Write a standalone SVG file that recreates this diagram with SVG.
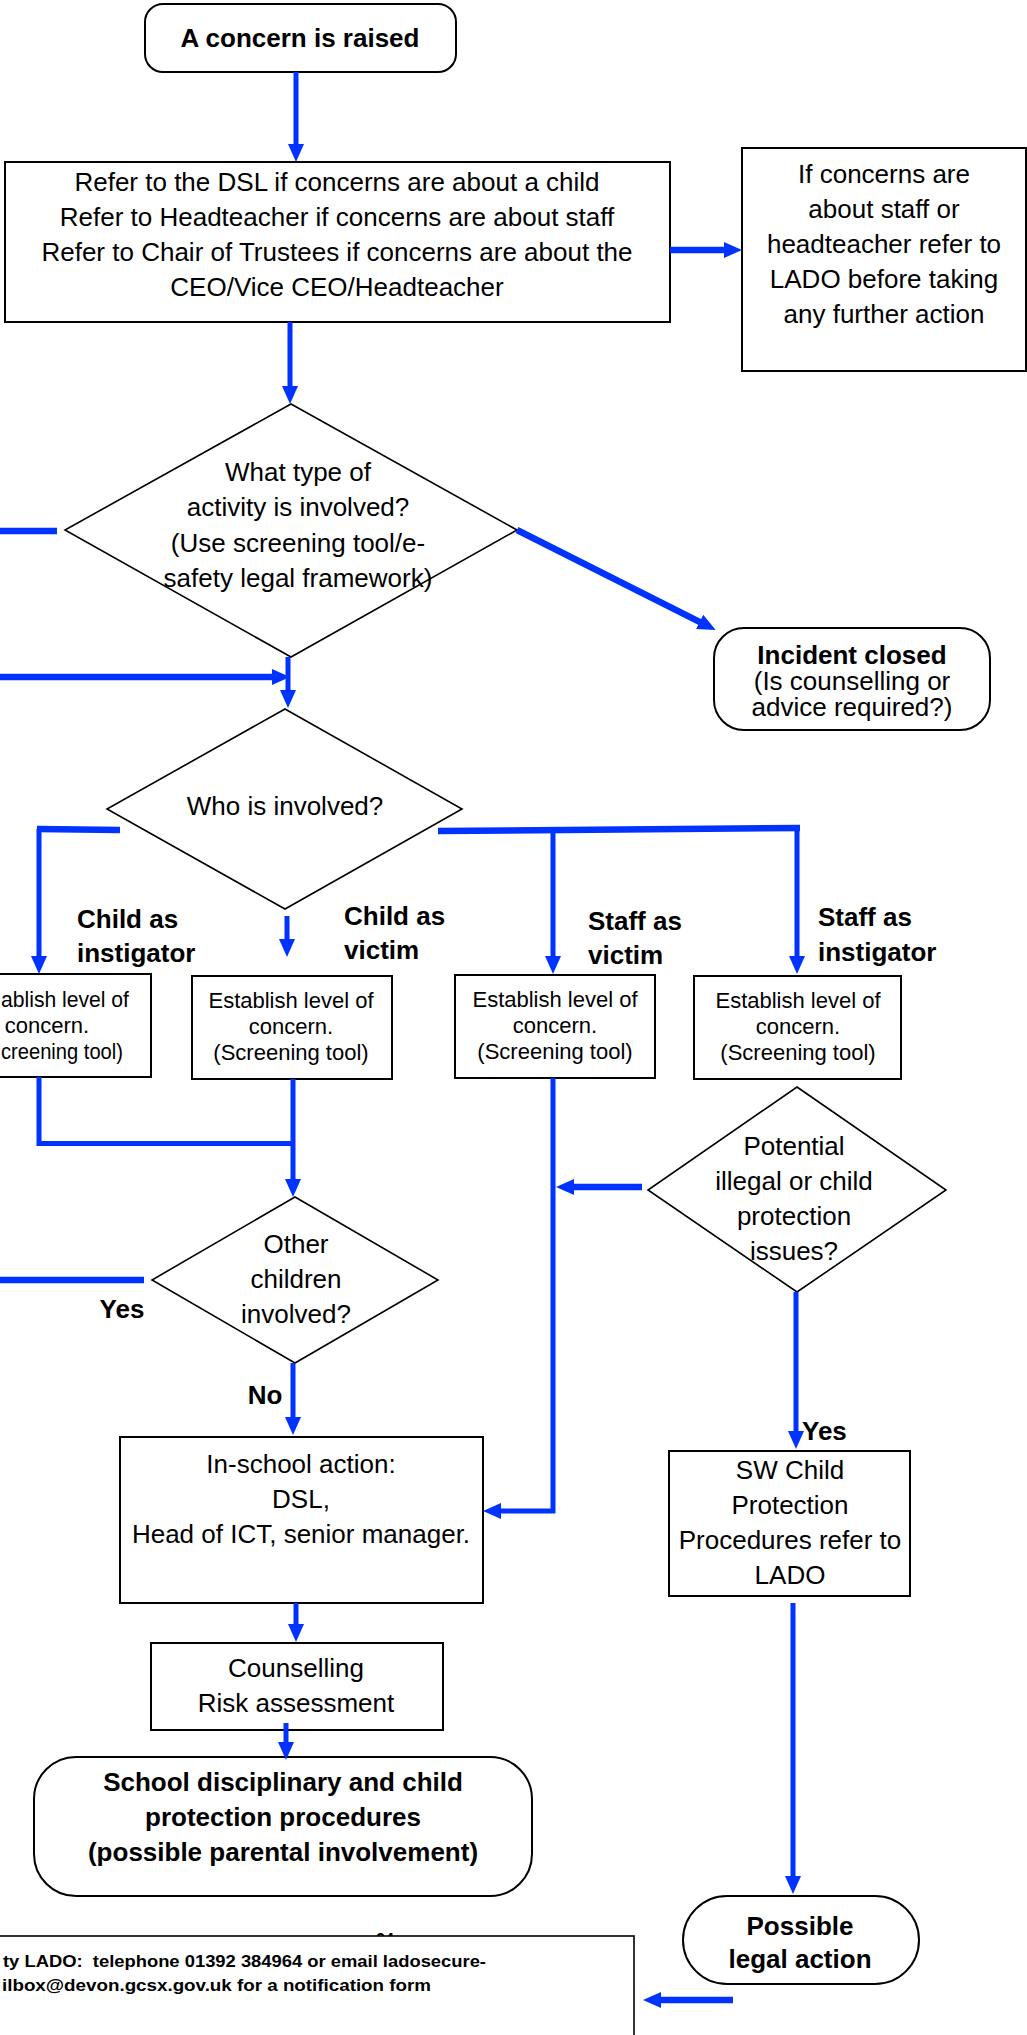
<svg xmlns="http://www.w3.org/2000/svg" width="1027" height="2035" viewBox="0 0 1027 2035">
<style>
.box{fill:#fff;stroke:#000;stroke-width:2}
.dia{fill:#fff;stroke:#000;stroke-width:1.6}
.t{font-family:"Liberation Sans",Arial,sans-serif;font-size:26px;fill:#000;text-anchor:middle}
.b{font-weight:bold}
.s{font-size:22px}
.l{text-anchor:start}
.e{text-anchor:end}
.ln{stroke:#0033ff;stroke-width:5;fill:none}
.tk{stroke-width:6.5}
.ft{font-family:"Liberation Sans",Arial,sans-serif;font-size:16px;font-weight:bold;fill:#000}
</style>
<defs>
<marker id="ah" markerUnits="userSpaceOnUse" markerWidth="18" markerHeight="16" viewBox="0 0 18 16" refX="6" refY="8" orient="auto">
<path d="M0,0 L18,8 L0,16 z" fill="#0033ff"/>
</marker>
</defs>
<rect width="1027" height="2035" fill="#fff"/>

<g id="n-concern">
<rect class="box" x="145" y="4" width="311" height="68" rx="18"/>
<text class="t b" x="300" y="47">A concern is raised</text>
</g>
<g id="n-refer">
<rect class="box" x="5" y="162" width="665" height="160"/>
<text class="t" x="337" y="191">Refer to the DSL if concerns are about a child</text>
<text class="t" x="337" y="226">Refer to Headteacher if concerns are about staff</text>
<text class="t" x="337" y="261">Refer to Chair of Trustees if concerns are about the</text>
<text class="t" x="337" y="296">CEO/Vice CEO/Headteacher</text>
</g>
<g id="n-lado-first">
<rect class="box" x="742" y="148" width="284" height="223"/>
<text class="t" x="884" y="183">If concerns are</text>
<text class="t" x="884" y="218">about staff or</text>
<text class="t" x="884" y="253">headteacher refer to</text>
<text class="t" x="884" y="288">LADO before taking</text>
<text class="t" x="884" y="323">any further action</text>
</g>
<g id="n-activity">
<polygon class="dia" points="291,404 517,530 291,657 65,530"/>
<text class="t" x="298" y="481">What type of</text>
<text class="t" x="298" y="516">activity is involved?</text>
<text class="t" x="298" y="552">(Use screening tool/e-</text>
<text class="t" x="298" y="587">safety legal framework)</text>
</g>
<g id="n-closed">
<rect class="box" x="714" y="628" width="276" height="102" rx="30"/>
<text class="t b" x="852" y="664">Incident closed</text>
<text class="t" x="852" y="690">(Is counselling or</text>
<text class="t" x="852" y="716">advice required?)</text>
</g>
<g id="n-who">
<polygon class="dia" points="285,709 462,809 285,909 107,809"/>
<text class="t" x="285" y="815">Who is involved?</text>
</g>
<g id="n-level-a">
<rect class="box" x="-50" y="974" width="201" height="103"/>
<text class="t s l" x="1" y="1007" textLength="128" lengthAdjust="spacingAndGlyphs">ablish level of</text>
<text class="t s" x="47" y="1033">concern.</text>
<text class="t s l" x="1" y="1059" textLength="122" lengthAdjust="spacingAndGlyphs">creening tool)</text>
</g>
<g id="n-level-b">
<rect class="box" x="192" y="976" width="200" height="103"/>
<text class="t s" x="291" y="1008">Establish level of</text>
<text class="t s" x="291" y="1034">concern.</text>
<text class="t s" x="291" y="1060">(Screening tool)</text>
</g>
<g id="n-level-c">
<rect class="box" x="455" y="975" width="200" height="103"/>
<text class="t s" x="555" y="1007">Establish level of</text>
<text class="t s" x="555" y="1033">concern.</text>
<text class="t s" x="555" y="1059">(Screening tool)</text>
</g>
<g id="n-level-d">
<rect class="box" x="694" y="976" width="207" height="103"/>
<text class="t s" x="798" y="1008">Establish level of</text>
<text class="t s" x="798" y="1034">concern.</text>
<text class="t s" x="798" y="1060">(Screening tool)</text>
</g>
<g id="n-other">
<polygon class="dia" points="295,1197 438,1280 295,1363 152,1280"/>
<text class="t" x="296" y="1253">Other</text>
<text class="t" x="296" y="1288">children</text>
<text class="t" x="296" y="1323">involved?</text>
</g>
<g id="n-potential">
<polygon class="dia" points="797,1087 946,1190 797,1292 648,1190"/>
<text class="t" x="794" y="1155">Potential</text>
<text class="t" x="794" y="1190">illegal or child</text>
<text class="t" x="794" y="1225">protection</text>
<text class="t" x="794" y="1260">issues?</text>
</g>
<g id="n-inschool">
<rect class="box" x="120" y="1437" width="363" height="166"/>
<text class="t" x="301" y="1473">In-school action:</text>
<text class="t" x="301" y="1508">DSL,</text>
<text class="t" x="301" y="1543">Head of ICT, senior manager.</text>
</g>
<g id="n-sw">
<rect class="box" x="669" y="1451" width="241" height="145"/>
<text class="t" x="790" y="1479">SW Child</text>
<text class="t" x="790" y="1514">Protection</text>
<text class="t" x="790" y="1549">Procedures refer to</text>
<text class="t" x="790" y="1584">LADO</text>
</g>
<g id="n-counselling">
<rect class="box" x="151" y="1643" width="292" height="87"/>
<text class="t" x="296" y="1677">Counselling</text>
<text class="t" x="296" y="1712">Risk assessment</text>
</g>
<g id="n-school">
<rect class="box" x="34" y="1757" width="498" height="139" rx="42"/>
<text class="t b" x="283" y="1791">School disciplinary and child</text>
<text class="t b" x="283" y="1826">protection procedures</text>
<text class="t b" x="283" y="1861">(possible parental involvement)</text>
</g>
<g id="n-legal">
<rect class="box" x="683" y="1896" width="236" height="88" rx="44"/>
<text class="t b" x="800" y="1935">Possible</text>
<text class="t b" x="800" y="1968">legal action</text>
</g>
<g id="n-contact">
<text class="ft" x="385" y="1945" text-anchor="middle" font-weight="normal">24</text>
<rect x="-2" y="1936" width="636" height="110" fill="#fff" stroke="#000" stroke-width="1.6"/>
<text class="ft" x="3" y="1967" textLength="483" lengthAdjust="spacingAndGlyphs" xml:space="preserve">ty LADO:  telephone 01392 384964 or email ladosecure-</text>
<text class="ft" x="2" y="1991" textLength="429" lengthAdjust="spacingAndGlyphs">ilbox@devon.gcsx.gov.uk for a notification form</text>
</g>

<g id="labels">
<text class="t b l" x="77" y="928">Child as</text>
<text class="t b l" x="77" y="962">instigator</text>
<text class="t b l" x="344" y="925">Child as</text>
<text class="t b l" x="344" y="959">victim</text>
<text class="t b l" x="588" y="930">Staff as</text>
<text class="t b l" x="588" y="964">victim</text>
<text class="t b l" x="818" y="926">Staff as</text>
<text class="t b l" x="818" y="961">instigator</text>
<text class="t b" x="122" y="1318">Yes</text>
<text class="t b" x="265" y="1404">No</text>
<text class="t b l" x="802" y="1440">Yes</text>
</g>

<g id="connectors">
<line class="ln" x1="296" y1="72" x2="296" y2="150" marker-end="url(#ah)"/>
<line class="ln tk" x1="670" y1="250" x2="730" y2="250" marker-end="url(#ah)"/>
<line class="ln" x1="290" y1="322" x2="290" y2="392" marker-end="url(#ah)"/>
<line class="ln tk" x1="0" y1="531" x2="57" y2="531"/>
<line class="ln tk" x1="517" y1="530" x2="705" y2="624.6" marker-end="url(#ah)"/>
<line class="ln tk" x1="0" y1="677" x2="278" y2="677" marker-end="url(#ah)"/>
<line class="ln" x1="288" y1="657" x2="288" y2="696" marker-end="url(#ah)"/>
<line class="ln tk" x1="120" y1="830" x2="37" y2="829"/>
<line class="ln" x1="39" y1="829" x2="39" y2="962" marker-end="url(#ah)"/>
<line class="ln" x1="287" y1="916" x2="287" y2="945" marker-end="url(#ah)"/>
<line class="ln tk" x1="438" y1="831" x2="800" y2="828"/>
<line class="ln" x1="553" y1="830" x2="553" y2="962" marker-end="url(#ah)"/>
<line class="ln" x1="797" y1="828" x2="797" y2="962" marker-end="url(#ah)"/>
<polyline class="ln" points="39,1077 39,1143.5 293,1143.5"/>
<line class="ln" x1="293" y1="1079" x2="293" y2="1185" marker-end="url(#ah)"/>
<line class="ln tk" x1="0" y1="1280" x2="144" y2="1280"/>
<line class="ln" x1="293" y1="1363" x2="293" y2="1423" marker-end="url(#ah)"/>
<polyline class="ln" points="553,1078 553,1511 495,1511" marker-end="url(#ah)"/>
<line class="ln tk" x1="642" y1="1187" x2="568" y2="1187" marker-end="url(#ah)"/>
<line class="ln" x1="796" y1="1292" x2="796" y2="1437" marker-end="url(#ah)"/>
<line class="ln" x1="296" y1="1603" x2="296" y2="1630" marker-end="url(#ah)"/>
<line class="ln" x1="286" y1="1723" x2="286" y2="1748" marker-end="url(#ah)"/>
<line class="ln" x1="793" y1="1603" x2="793" y2="1882" marker-end="url(#ah)"/>
<line class="ln tk" x1="733" y1="2000" x2="655" y2="2000" marker-end="url(#ah)"/>
</g>
</svg>
